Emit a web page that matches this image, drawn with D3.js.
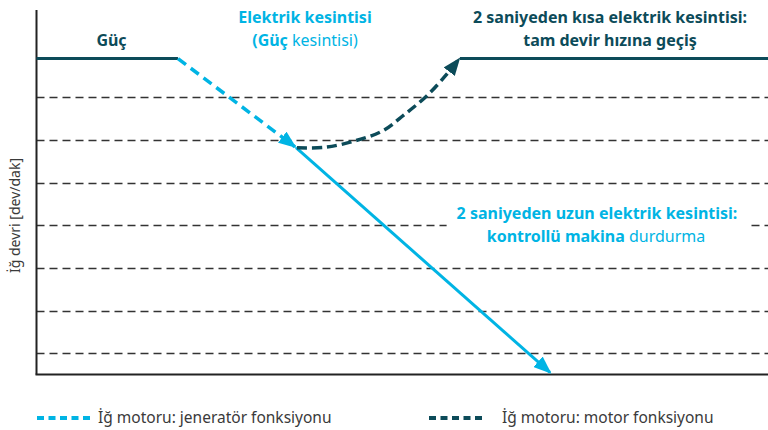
<!DOCTYPE html>
<html>
<head>
<meta charset="utf-8">
<script src="https://cdn.jsdelivr.net/npm/d3@7"></script>
<style>
  html, body { margin: 0; padding: 0; background: #fff; }
  svg { display: block; }
  text { font-family: "Noto Sans", "Open Sans", sans-serif; }
</style>
</head>
<body>
<svg id="chart"></svg>
<script>
// 数据：横轴为时间（任意单位 0-100），纵轴为转速（任意单位）
const gridLevels = [0.5, 1.5, 2.5, 3.5, 4.5, 5.5, 6.5];

const powerLine = [[0, 7.41], [19.34, 7.41]];
const generatorPhase = [[19.34, 7.41], [35.34, 5.34]];
const motorPhase = [
    [35.61, 5.32], [39.44, 5.33], [43.54, 5.48], [47.37, 5.72],
    [50.24, 6.09], [53.38, 6.54], [56.12, 7.05], [57.76, 7.40],
];
const fullSpeed = [[57.89, 7.41], [100, 7.41]];
const controlledStop = [[35.48, 5.32], [70.2, 0.05]];

const yAxisTitle = 'İğ devri [dev/dak]';
const legendItems = ['İğ motoru: jeneratör fonksiyonu', 'İğ motoru: motor fonksiyonu'];

const colors = { dark: '#0c4b59', cyan: '#00b4e4', grid: '#333333', text: '#3a3a3a' };

const W = 768, H = 430;
const svg = d3.select('#chart').attr('width', W).attr('height', H);

const x = d3.scaleLinear().domain([0, 100]).range([36.5, 768]);
const y = d3.scaleLinear().domain([0, 8.55]).range([374.5, 10]);

const line = d3.line().x((d) => x(d[0])).y((d) => y(d[1]));
const curve = d3.line().x((d) => x(d[0])).y((d) => y(d[1])).curve(d3.curveCatmullRom);

// 箭头
const defs = svg.append('defs');
function arrow(id, color) {
    defs.append('marker')
        .attr('id', id)
        .attr('viewBox', '0 0 18 14')
        .attr('markerUnits', 'userSpaceOnUse')
        .attr('markerWidth', 18)
        .attr('markerHeight', 14)
        .attr('refX', 16)
        .attr('refY', 7)
        .attr('orient', 'auto')
        .append('path')
        .attr('d', 'M0,0 L18,7 L0,14 Z')
        .attr('fill', color);
}
arrow('arrow-cyan', colors.cyan);
arrow('arrow-dark', colors.dark);

// 网格虚线
svg.append('g')
    .selectAll('line')
    .data(gridLevels)
    .enter()
    .append('line')
    .attr('x1', x(0))
    .attr('x2', x(100))
    .attr('y1', (d) => Math.round(y(d)) + 0.5)
    .attr('y2', (d) => Math.round(y(d)) + 0.5)
    .attr('stroke', colors.grid)
    .attr('stroke-width', 1.5)
    .attr('stroke-dasharray', '8,5');

// 坐标轴
svg.append('line')
    .attr('x1', x(0)).attr('x2', x(0))
    .attr('y1', y(8.55)).attr('y2', y(0))
    .attr('stroke', '#222').attr('stroke-width', 2);
svg.append('line')
    .attr('x1', x(0) - 1).attr('x2', x(100))
    .attr('y1', y(0)).attr('y2', y(0))
    .attr('stroke', '#222').attr('stroke-width', 2);

svg.append('text')
    .attr('transform', `translate(20, ${y(3.73)}) rotate(-90)`)
    .attr('text-anchor', 'middle')
    .attr('fill', colors.text)
    .style('font-size', '14px')
    .text(yAxisTitle);

// 标注文字
function label(cx, by, parts, color) {
    const t = svg.append('text')
        .attr('x', cx)
        .attr('y', by)
        .attr('text-anchor', 'middle')
        .attr('fill', color)
        .style('font-size', '16px');
    parts.forEach((p) => {
        t.append('tspan')
            .style('font-weight', p[1] ? 'bold' : 'normal')
            .text(p[0]);
    });
    return t;
}

label(111.5, 46, [['Güç', true]], colors.dark);
label(305, 23, [['Elektrik kesintisi', true]], colors.cyan);
label(305, 46, [['(Güç', true], [' kesintisi)', false]], colors.cyan);
label(610, 23, [['2 saniyeden kısa elektrik kesintisi:', true]], colors.dark);
label(610, 46, [['tam devir hızına geçiş', true]], colors.dark);

const longLabel = label(597, 219, [['2 saniyeden uzun elektrik kesintisi:', true]], colors.cyan);
const bb = longLabel.node().getBBox();
svg.insert('rect', 'text')
    .attr('x', bb.x - 10)
    .attr('y', bb.y + bb.height - 6)
    .attr('width', bb.width + 20)
    .attr('height', 10)
    .attr('fill', '#fff');
label(596, 242, [['kontrollü makina', true], [' durdurma', false]], colors.cyan);

// 曲线
svg.append('path')
    .attr('d', line(powerLine))
    .attr('fill', 'none').attr('stroke', colors.dark).attr('stroke-width', 3);
svg.append('path')
    .attr('d', line(fullSpeed))
    .attr('fill', 'none').attr('stroke', colors.dark).attr('stroke-width', 3);
svg.append('path')
    .attr('d', line(controlledStop))
    .attr('fill', 'none').attr('stroke', colors.cyan).attr('stroke-width', 3)
    .attr('marker-end', 'url(#arrow-cyan)');
svg.append('path')
    .attr('d', line(generatorPhase))
    .attr('fill', 'none').attr('stroke', colors.cyan).attr('stroke-width', 3.5)
    .attr('stroke-dasharray', '10,6')
    .attr('marker-end', 'url(#arrow-cyan)');
svg.append('path')
    .attr('d', curve(motorPhase))
    .attr('fill', 'none').attr('stroke', colors.dark).attr('stroke-width', 3.5)
    .attr('stroke-dasharray', '10,5')
    .attr('marker-end', 'url(#arrow-dark)');

// 图例
const legendX = [37, 429];
const legendTextX = [98, 502];
const legendColors = [colors.cyan, colors.dark];
legendItems.forEach((name, i) => {
    svg.append('line')
        .attr('x1', legendX[i]).attr('x2', legendX[i] + 53)
        .attr('y1', 418).attr('y2', 418)
        .attr('stroke', legendColors[i]).attr('stroke-width', 4)
        .attr('stroke-dasharray', '7,4.5');
    svg.append('text')
        .attr('x', legendTextX[i])
        .attr('y', 423)
        .attr('fill', colors.text)
        .style('font-size', '15.5px')
        .text(name);
});
</script>
</body>
</html>
